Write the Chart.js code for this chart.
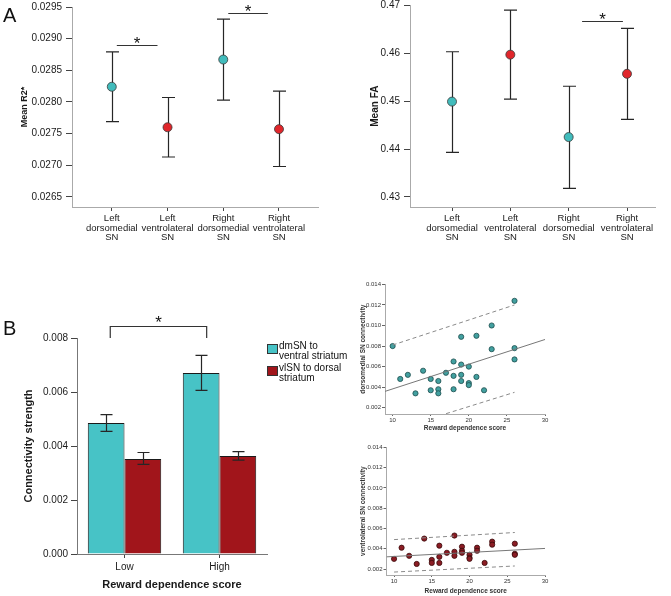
<!DOCTYPE html>
<html lang="en">
<head>
  <meta charset="UTF-8">
  <title>SN connectivity figure</title>
  <script src="https://cdn.jsdelivr.net/npm/chart.js"></script>
  <style>
    body { margin: 0; background: #fff; font-family: "Liberation Sans", Arial, sans-serif; }
    #fig { position: relative; width: 671px; height: 596px; overflow: hidden; background: #fff; }
    #fig canvas { position: absolute; }
    .panel-tag { position: absolute; font-size: 20px; line-height: 20px; color: #111; }
    .swatch { position: absolute; width: 9px; height: 8px; border: 1px solid #333; }
    .legend-text { position: absolute; font-size: 10px; line-height: 9.5px; color: #111; white-space: nowrap; }
  </style>
</head>
<body>
<div id="fig">
  <canvas id="r2Chart" width="335" height="250" style="left:0;top:0"></canvas>
  <canvas id="faChart" width="331" height="250" style="left:340px;top:0"></canvas>
  <canvas id="barChart" width="270" height="296" style="left:0;top:300px"></canvas>
  <canvas id="dmScatterChart" width="215" height="160" style="left:340px;top:276px"></canvas>
  <canvas id="vlScatterChart" width="215" height="158" style="left:340px;top:438px"></canvas>

  <div class="panel-tag" style="left:3px;top:5px">A</div>
  <div class="panel-tag" style="left:3px;top:318px">B</div>

  <!-- legend for the bar chart -->
  <div class="swatch" style="left:267px;top:344px;background:#47c3c6"></div>
  <div class="legend-text" style="left:279px;top:341px">dmSN to<br>ventral striatum</div>
  <div class="swatch" style="left:267px;top:366px;background:#a1151b"></div>
  <div class="legend-text" style="left:279px;top:363px">vlSN to dorsal<br>striatum</div>
</div>

<script>
  // ---- panel A: means with 95% CI ----
  const regionLabels = [['Left', 'dorsomedial', 'SN'], ['Left', 'ventrolateral', 'SN'], ['Right', 'dorsomedial', 'SN'], ['Right', 'ventrolateral', 'SN']];
  const regionPos = [1, 2, 3, 4];
  const regionColors = ['#41bcbc', '#e0262b', '#41bcbc', '#e0262b'];
  const r2Mean = [0.02824, 0.02760, 0.02867, 0.02757];
  const r2Upper = [0.02879, 0.02807, 0.02931, 0.02817];
  const r2Lower = [0.02769, 0.02713, 0.02803, 0.02698];
  const r2Ticks = [0.0265, 0.0270, 0.0275, 0.0280, 0.0285, 0.0290, 0.0295];
  const faMean = [0.4499, 0.4597, 0.4425, 0.4557];
  const faUpper = [0.4603, 0.4690, 0.4531, 0.4652];
  const faLower = [0.4393, 0.4504, 0.4318, 0.4462];
  const faTicks = [0.43, 0.44, 0.45, 0.46, 0.47];

  // ---- panel B: bars ----
  const scoreGroups = ['Low', 'High'];
  const dmsnConn = [0.00485, 0.00670];
  const dmsnUpper = [0.00516, 0.00736];
  const dmsnLower = [0.00454, 0.00606];
  const vlsnConn = [0.00352, 0.00363];
  const vlsnUpper = [0.00376, 0.00379];
  const vlsnLower = [0.00332, 0.00348];
  const connTicks = [0, 0.002, 0.004, 0.006, 0.008];

  // ---- panel B: scatter plots ----
  const dmScore = [10, 11, 12, 13, 14, 15, 15, 16, 16, 16, 17, 18, 18, 18, 19, 19, 19, 19, 20, 20, 20, 21, 21, 22, 23, 23, 26, 26, 26];
  const dmScatter = [0.0080, 0.0048, 0.0052, 0.0034, 0.0056, 0.0048, 0.0037, 0.0046, 0.0038, 0.0034, 0.0054, 0.0065, 0.0051, 0.0038, 0.0089, 0.0062, 0.0052, 0.0046, 0.0060, 0.0044, 0.0042, 0.0090, 0.0050, 0.0037, 0.0100, 0.0077, 0.0124, 0.0078, 0.0067];
  const vlScore = [10, 11, 12, 13, 14, 15, 15, 16, 16, 16, 17, 18, 18, 18, 19, 19, 19, 20, 20, 20, 21, 21, 22, 23, 23, 26, 26, 26];
  const vlScatter = [0.0030, 0.0041, 0.0033, 0.0025, 0.0050, 0.0029, 0.0026, 0.0043, 0.0032, 0.0026, 0.0036, 0.0053, 0.0037, 0.0033, 0.0042, 0.0038, 0.0036, 0.0034, 0.0031, 0.0030, 0.0041, 0.0038, 0.0026, 0.0047, 0.0044, 0.0045, 0.0035, 0.0034];
  const fitX = [9, 30];
  const dmFitY = [0.00359, 0.00864];
  const vlFitY = [0.00320, 0.00403];
  const bandX = [10, 26];
  const dmBandHi = [0.0081, 0.0120];
  const dmBandLo = [-0.0002, 0.0035];
  const vlBandHi = [0.0049, 0.0056];
  const vlBandLo = [0.0017, 0.0023];
  const scoreTicks = [10, 15, 20, 25, 30];
  const scatterTicks = [0.002, 0.004, 0.006, 0.008, 0.010, 0.012, 0.014];

  const FONT = "'Liberation Sans', Arial, sans-serif";
  Chart.defaults.font.family = FONT;
  Chart.defaults.color = '#1a1a1a';
  Chart.defaults.animation = false;
  Chart.defaults.plugins.legend.display = false;
  Chart.defaults.plugins.tooltip.enabled = false;

  const xy = (xs, ys) => xs.map((x, i) => ({ x, y: ys[i] }));

  // lock axis box sizes so the plot area sits where the figure has it
  function fixBox(size) {
    return scale => {
      if (scale.isHorizontal()) scale.height = size; else scale.width = size;
      scale.paddingTop = scale.paddingBottom = scale.paddingLeft = scale.paddingRight = 0;
    };
  }
  const setTicks = values => scale => { scale.ticks = values.map(v => ({ value: v })); };

  function errorBarPlugin(sets, cap, onTop) {
    function draw(chart) {
      const ctx = chart.ctx;
      const y = chart.scales.y;
      ctx.save();
      ctx.strokeStyle = '#262626';
      ctx.lineWidth = 1.2;
      sets.forEach(s => {
        chart.getDatasetMeta(s.dataset).data.forEach((el, i) => {
          const x = Math.round(el.x) + 0.5;
          const top = y.getPixelForValue(s.upper[i]);
          const bot = y.getPixelForValue(s.lower[i]);
          ctx.beginPath();
          ctx.moveTo(x, top); ctx.lineTo(x, bot);
          ctx.moveTo(x - cap / 2, top); ctx.lineTo(x + cap / 2, top);
          ctx.moveTo(x - cap / 2, bot); ctx.lineTo(x + cap / 2, bot);
          ctx.stroke();
        });
      });
      ctx.restore();
    }
    return {
      id: 'errorBars',
      beforeDatasetsDraw(chart) { if (!onTop) draw(chart); },
      afterDatasetsDraw(chart) { if (onTop) draw(chart); }
    };
  }

  // significance lines / brackets with an asterisk
  function sigPlugin(marks) {
    return {
      id: 'sigMarks',
      afterDraw(chart) {
        const { ctx, scales: { x, y } } = chart;
        ctx.save();
        ctx.strokeStyle = '#333';
        ctx.lineWidth = 1.2;
        marks.forEach(m => {
          const x1 = x.getPixelForValue(m.from);
          const x2 = x.getPixelForValue(m.to);
          const yy = Math.round(y.getPixelForValue(m.at)) + 0.5;
          ctx.beginPath();
          if (m.drop !== undefined) {
            const yd = y.getPixelForValue(m.drop);
            ctx.moveTo(x1, yd); ctx.lineTo(x1, yy); ctx.lineTo(x2, yy); ctx.lineTo(x2, yd);
          } else {
            ctx.moveTo(x1, yy); ctx.lineTo(x2, yy);
          }
          ctx.stroke();
          ctx.fillStyle = '#111';
          ctx.font = '17px ' + FONT;
          ctx.textAlign = 'center';
          ctx.textBaseline = 'alphabetic';
          ctx.fillText('*', (x1 + x2) / 2, yy - m.lift + 9.5);
        });
        ctx.restore();
      }
    };
  }

  function makeMeanChart(id, means, upper, lower, geo) {
    return new Chart(document.getElementById(id), {
      type: 'scatter',
      data: {
        datasets: [{
          data: xy(regionPos, means),
          pointRadius: 4.5,
          pointBackgroundColor: regionColors,
          pointBorderColor: '#3a3a3a',
          pointBorderWidth: 0.8
        }]
      },
      options: {
        responsive: false,
        layout: { padding: geo.padding },
        scales: {
          x: {
            type: 'linear', min: geo.xMin, max: geo.xMax,
            afterBuildTicks: setTicks(regionPos),
            afterFit: fixBox(geo.xBox),
            grid: { drawOnChartArea: false, tickLength: 4, color: '#444' },
            border: { color: '#aaa', width: 1 },
            ticks: {
              autoSkip: false, maxRotation: 0, padding: 3,
              font: { size: 9.5, lineHeight: 1 },
              callback: v => regionLabels[v - 1]
            }
          },
          y: {
            min: geo.yMin, max: geo.yMax,
            afterBuildTicks: setTicks(geo.ticks),
            afterFit: fixBox(geo.yBox),
            grid: { drawOnChartArea: false, tickLength: 6, color: '#444' },
            border: { color: '#aaa', width: 1 },
            ticks: { padding: 4, font: { size: 10 }, callback: v => v.toFixed(geo.decimals) },
            title: {
              display: true, text: geo.title,
              font: { size: geo.titleSize, weight: 'bold' },
              padding: { top: geo.titlePad, bottom: 0 }
            }
          }
        }
      },
      plugins: [
        errorBarPlugin([{ dataset: 0, upper, lower }], 13, false),
        sigPlugin(geo.sig)
      ]
    });
  }

  makeMeanChart('r2Chart', r2Mean, r2Upper, r2Lower, {
    padding: { top: 7, right: 17, left: 0, bottom: 0 },
    xMin: 0.286, xMax: 4.7, xBox: 43, yBox: 72,
    yMin: 0.02634, yMax: 0.0295, ticks: r2Ticks, decimals: 4,
    title: 'Mean R2*', titleSize: 9, titlePad: 19.6,
    sig: [{ from: 1.09, to: 1.82, at: 0.0289, lift: 6 }, { from: 3.09, to: 3.8, at: 0.0294, lift: 6 }]
  });

  makeMeanChart('faChart', faMean, faUpper, faLower, {
    padding: { top: 4, right: 16, left: 0, bottom: 0 },
    xMin: 0.28, xMax: 4.48, xBox: 43, yBox: 70,
    yMin: 0.4279, yMax: 0.47, ticks: faTicks, decimals: 2,
    title: 'Mean FA', titleSize: 10, titlePad: 29,
    sig: [{ from: 3.23, to: 3.93, at: 0.4668, lift: 6 }]
  });

  // ---- bar chart ----
  new Chart(document.getElementById('barChart'), {
    type: 'bar',
    data: {
      labels: scoreGroups,
      datasets: [
        { label: 'dmSN to ventral striatum', data: dmsnConn, backgroundColor: '#47c3c6', borderColor: '#1a1a1a', borderWidth: 1 },
        { label: 'vlSN to dorsal striatum', data: vlsnConn, backgroundColor: '#a1151b', borderColor: '#1a1a1a', borderWidth: 1 }
      ]
    },
    options: {
      responsive: false,
      layout: { padding: { top: 38, right: 3, left: 0, bottom: 0 } },
      datasets: { bar: { categoryPercentage: 0.773, barPercentage: 1 } },
      scales: {
        x: {
          afterFit: fixBox(42),
          grid: { drawOnChartArea: false, offset: false, tickLength: 4, color: '#444' },
          border: { color: '#777', width: 1 },
          ticks: { padding: 3, font: { size: 10 } },
          title: {
            display: true, text: 'Reward dependence score',
            font: { size: 11, weight: 'bold' },
            padding: { top: 0, bottom: 4 }
          }
        },
        y: {
          min: 0, max: 0.008,
          afterBuildTicks: setTicks(connTicks),
          afterFit: fixBox(77),
          grid: { drawOnChartArea: false, tickLength: 6, color: '#444' },
          border: { color: '#777', width: 1 },
          ticks: { padding: 3, font: { size: 10 }, callback: v => v.toFixed(3) },
          title: {
            display: true, text: 'Connectivity strength',
            font: { size: 11, weight: 'bold' },
            padding: { top: 22.4, bottom: 0 }
          }
        }
      }
    },
    plugins: [
      errorBarPlugin([
        { dataset: 0, upper: dmsnUpper, lower: dmsnLower },
        { dataset: 1, upper: vlsnUpper, lower: vlsnLower }
      ], 12, true),
      sigPlugin([{ from: -0.15, to: 0.865, at: 0.00846, drop: 0.008, lift: 8 }])
    ]
  });

  // ---- scatter plots with fit line and prediction interval ----
  function makeScatterChart(id, xs, ys, fitY, bandHi, bandLo, fill, edge, title, geo) {
    const dashed = { showLine: true, pointRadius: 0, borderColor: '#8a8a8a', borderWidth: 1, borderDash: [4, 3] };
    return new Chart(document.getElementById(id), {
      type: 'scatter',
      data: {
        datasets: [
          { data: xy(fitX, fitY), showLine: true, pointRadius: 0, borderColor: '#777', borderWidth: 1 },
          Object.assign({ data: xy(bandX, bandHi) }, dashed),
          Object.assign({ data: xy(bandX, bandLo) }, dashed),
          { data: xy(xs, ys), pointRadius: 2.6, pointBackgroundColor: fill, pointBorderColor: edge, pointBorderWidth: 0.8 }
        ]
      },
      options: {
        responsive: false,
        layout: { padding: geo.padding },
        scales: {
          x: {
            type: 'linear', min: 9, max: 30,
            afterBuildTicks: setTicks(scoreTicks),
            afterFit: fixBox(geo.xBox),
            grid: { drawOnChartArea: false, tickLength: 2, color: '#666' },
            border: { color: '#aaa', width: 1 },
            ticks: { padding: 1, font: { size: 6 }, color: '#333' },
            title: {
              display: true, text: 'Reward dependence score',
              font: { size: 6.5, weight: 'bold' }, color: '#333',
              padding: { top: 0, bottom: geo.xTitlePad }
            }
          },
          y: {
            min: geo.yMin, max: 0.014,
            afterBuildTicks: setTicks(scatterTicks),
            afterFit: fixBox(geo.yBox),
            grid: { drawOnChartArea: false, tickLength: 3, color: '#666' },
            border: { color: '#aaa', width: 1 },
            ticks: { padding: 1, font: { size: 6 }, color: '#333', callback: v => v.toFixed(3) },
            title: {
              display: true, text: title,
              font: { size: 6.5, weight: 'bold' }, color: '#333',
              padding: { top: 19.6, bottom: 0 }
            }
          }
        }
      }
    });
  }

  makeScatterChart('dmScatterChart', dmScore, dmScatter, dmFitY, dmBandHi, dmBandLo,
    '#42a0a0', '#1d4d4d', 'dorsomedial SN connectivity',
    { padding: { top: 8.4, right: 10, left: 0, bottom: 0 }, xBox: 22, yBox: 45, yMin: 0.00139, xTitlePad: 3.4 });

  makeScatterChart('vlScatterChart', vlScore, vlScatter, vlFitY, vlBandHi, vlBandLo,
    '#8b1c24', '#3a0a0a', 'ventrolateral SN connectivity',
    { padding: { top: 9.3, right: 10, left: 0, bottom: 0 }, xBox: 21, yBox: 46.5, yMin: 0.00141, xTitlePad: 0.7 });
</script>
</body>
</html>
